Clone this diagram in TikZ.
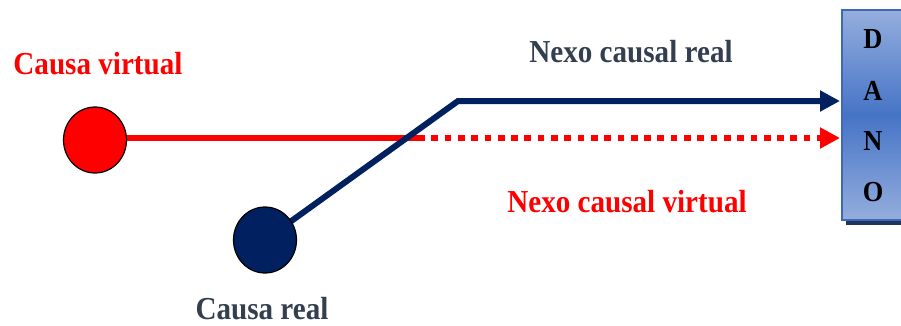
\documentclass[tikz,border=0pt]{standalone}
\usepackage{fontspec}
\setmainfont{Liberation Serif}
\usetikzlibrary{arrows.meta,shapes.geometric}
\definecolor{navyc}{HTML}{002060}
\definecolor{redc}{HTML}{FF0000}
\definecolor{slatec}{HTML}{333F50}
\definecolor{boxlight}{HTML}{94AEDD}
\definecolor{boxdark}{HTML}{4674C6}
\definecolor{boxedge}{HTML}{3F68B8}
\definecolor{shadowc}{HTML}{1F3560}
\newfontfamily\lblfont[FakeStretch=0.91]{Liberation Serif}
\begin{document}
\begin{tikzpicture}[x=1pt,y=-1pt,
  lbl/.style={font=\lblfont\bfseries\fontsize{32}{36}\selectfont, anchor=base, inner sep=0pt},
  letter/.style={font=\lblfont\bfseries\fontsize{29}{32}\selectfont, anchor=base, inner sep=0pt, text=black},
  dot/.style={ellipse, draw=black, line width=1.2pt, minimum width=63pt, minimum height=66pt, inner sep=0pt},
  navyline/.style={draw=navyc, line width=6pt},
  redline/.style={draw=redc, line width=6.5pt},
  tip/.style={-{Triangle[length=20pt,width=20pt]}}]
\useasboundingbox (0,0) rectangle (901,325);
% box
\fill[shadowc] (846,14) rectangle (910,225);
\shade[top color=boxlight, bottom color=boxlight, middle color=boxdark] (841,10) rectangle (910,220);
\draw[boxedge, line width=2pt] (910,10) -- (842,10) -- (842,220) -- (910,220);
\node[inner sep=0pt, minimum width=68pt, minimum height=210pt, anchor=north west] (dano) at (841,10) {};
\node[letter] (ld) at (873,48) {D};
\node[letter] (la) at (873,100) {A};
\node[letter] (ln) at (873,150) {N};
\node[letter] (lo) at (873,201) {O};
% coordinates
\coordinate (split) at (418,138);
\coordinate (bend) at (458,101);
\coordinate (realend) at (840,101);
\coordinate (virtend) at (840,138);
% lines
\draw[redline] (95,138) -- (split);
\draw[redline, dash pattern=on 6.7pt off 6.6pt] (split) -- ([xshift=-18pt]virtend);
\draw[redline, tip] ([xshift=-20pt]virtend) -- (virtend);
\draw[navyline, line join=miter] (265,240) -- (bend) -- ([xshift=-18pt]realend);
\draw[navyline, tip] ([xshift=-20pt]realend) -- (realend);
% circles
\node[dot, fill=redc] (cv) at (95,140) {};
\node[dot, fill=navyc] (cr) at (265,240) {};
% labels
\node[lbl, text=redc] (tcv) at (98,74) {Causa virtual};
\node[lbl, text=slatec] (tnr) at (631,62) {Nexo causal real};
\node[lbl, text=redc] (tnv) at (627,212) {Nexo causal virtual};
\node[lbl, text=slatec] (tcr) at (262,319) {Causa real};
\end{tikzpicture}
\end{document}
